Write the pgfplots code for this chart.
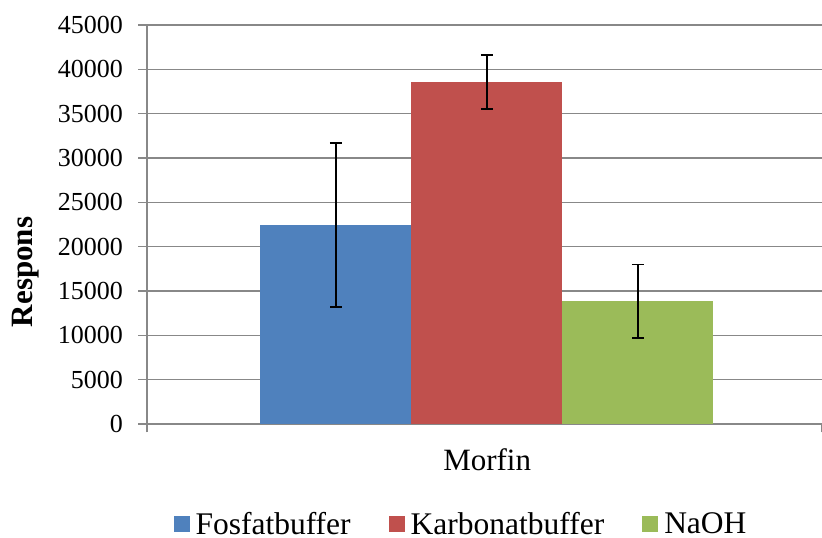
\documentclass[border=0pt]{standalone}
\usepackage{pgfplots}
\pgfplotsset{compat=1.18}
\usepackage{fontspec}
\setmainfont{Liberation Serif}

\definecolor{fosfat}{HTML}{4F81BD}
\definecolor{karbonat}{HTML}{C0504D}
\definecolor{naoh}{HTML}{9BBB59}
\definecolor{gridgray}{HTML}{888888}

\pgfplotsset{
  respbar/.style={
    ybar, bar width=1, bar shift=0pt, draw=none,
    legend image code/.code={\fill[##1] (0pt,-8pt) rectangle (16pt,8pt);},
    /pgfplots/error bars/y dir=both,
    /pgfplots/error bars/y explicit,
    /pgfplots/error bars/error mark=-,
    /pgfplots/error bars/error bar style={black, line width=1.6pt},
    /pgfplots/error bars/error mark options={rotate=90, black, mark size=5.8pt, line width=1.6pt},
  },
}

\begin{document}
\begin{tikzpicture}
\path[use as bounding box] (0pt,0pt) rectangle (822pt,538pt);
\begin{axis}[
  at={(147pt,114pt)}, anchor=south west,
  scale only axis, width=675pt, height=399pt,
  xmin=-2.25, xmax=2.22,
  ymin=0, ymax=45000,
  ytick={0,5000,...,45000},
  scaled y ticks=false,
  xtick={-2.25,2.22}, xticklabels={},
  axis x line*=bottom, axis y line*=left,
  axis line style={gridgray, line width=1.4pt},
  tick style={gridgray, line width=1.4pt},
  tick align=outside, major tick length=8.5pt,
  ymajorgrids, grid style={gridgray, line width=1.4pt},
  /pgf/number format/assume math mode=true,
  /pgf/number format/1000 sep={},
  yticklabel style={font=\fontsize{26}{30}\selectfont, xshift=-12pt},
  xlabel={Morfin},
  xlabel style={at={(axis description cs:0.504,-0.1153)}, anchor=base,
    font=\fontsize{31}{36}\selectfont},
  ylabel={Respons},
  ylabel style={at={(axis description cs:-0.1796,0.381)}, anchor=center,
    font=\fontsize{31}{36}\selectfont\bfseries},
  legend style={at={(axis description cs:0.4652,-0.2506)}, anchor=center,
    draw=none, fill=none, legend columns=3,
    font=\fontsize{31.5}{36}\selectfont,
    /tikz/every odd column/.append style={column sep=4pt},
    /tikz/every even column/.append style={column sep=36pt}},
]
\addplot[respbar, fill=fosfat] coordinates {(-1,22450) +- (0,9230)};
\addlegendentry{Fosfatbuffer}
\addplot[respbar, fill=karbonat] coordinates {(0,38570) +- (0,3045)};
\addlegendentry{Karbonatbuffer}
\addplot[respbar, fill=naoh] coordinates {(1,13870) +- (0,4140)};
\addlegendentry{NaOH}
\end{axis}
\end{tikzpicture}
\end{document}
